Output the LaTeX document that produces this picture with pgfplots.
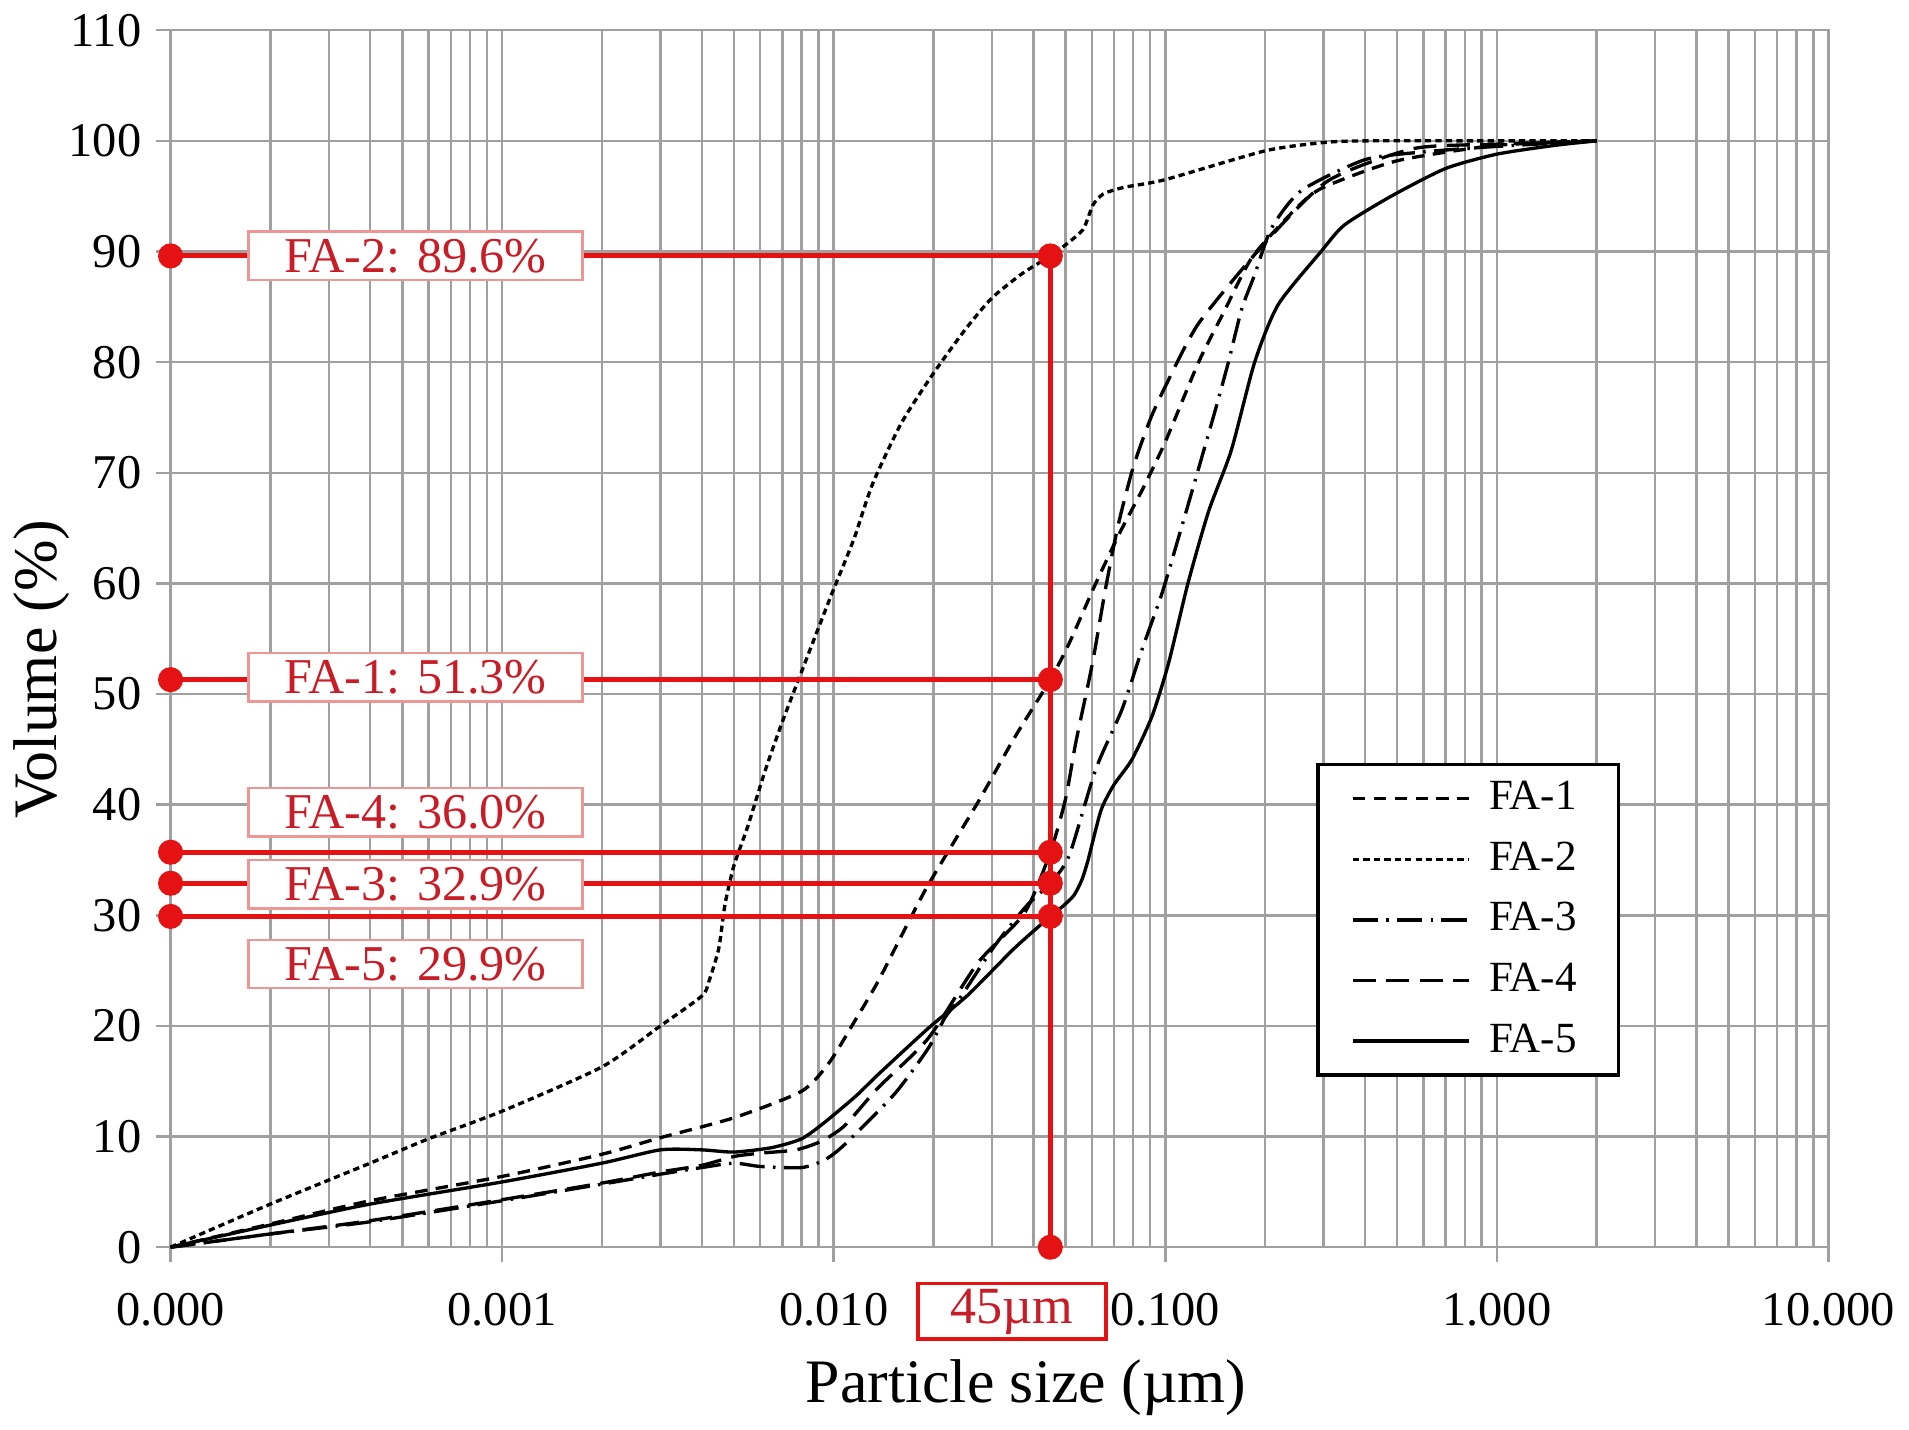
\documentclass[border=0pt]{standalone}
\usepackage{fontspec}
\setmainfont{Liberation Serif}
\usepackage{pgfplots}
\pgfplotsset{compat=1.18}
\definecolor{gridgray}{RGB}{160,160,160}
\definecolor{mred}{RGB}{228,18,18}
\definecolor{tred}{RGB}{200,28,38}
\definecolor{bred}{RGB}{236,150,150}

\begin{document}
\begin{tikzpicture}
\begin{axis}[
  scale only axis, width=13.95cm, height=10.24cm,
  xmode=log, log basis x=10,
  xmin=1e-4, xmax=10, ymin=0, ymax=110,
  xtick={1e-4,1e-3,1e-2,1e-1,1,10},
  xticklabels={0.000,0.001,0.010,0.100,1.000,10.000},
  minor xtick={2e-4,3e-4,4e-4,5e-4,6e-4,7e-4,8e-4,9e-4,
    2e-3,3e-3,4e-3,5e-3,6e-3,7e-3,8e-3,9e-3,
    0.02,0.03,0.04,0.05,0.06,0.07,0.08,0.09,
    0.2,0.3,0.4,0.5,0.6,0.7,0.8,0.9,
    2,3,4,5,6,7,8,9},
  ytick={0,10,...,110},
  grid=both,
  major grid style={gridgray, line width=0.6pt},
  minor grid style={gridgray, line width=0.6pt},
  axis line style={gridgray, line width=0.6pt},
  tick style={gridgray, line width=0.6pt},
  tick align=outside, major tick length=3.5pt, minor tick length=0pt,
  xtick pos=bottom, ytick pos=left,
  tick label style={font=\fontsize{11.6}{14}\selectfont},
  xticklabel style={yshift=-4pt},
  /pgf/number format/assume math mode=true,
  xlabel={Particle size (µm)}, ylabel={Volume (\%)},
  label style={font=\fontsize{14.8}{17}\selectfont},
  xlabel style={at={(axis description cs:0.516,-0.1150)}, anchor=center},
  ylabel style={at={(axis description cs:-0.0776,0.475)}, anchor=center},
  clip=false,
  legend style={at={(0.691,0.398)}, anchor=north west, draw=black,
    line width=0.8pt, fill=white, font=\fontsize{10.3}{12}\selectfont,
    inner xsep=8pt, inner ysep=2pt, row sep=2.2pt,
    cells={anchor=west}},
  legend image code/.code={\draw[#1, line width=0.8pt] (0pt,0pt) -- (27.9pt,0pt);
    \path (30.2pt,0pt);},
  every axis plot/.append style={black, line width=0.8pt},
]
% FA-1
\addplot[smooth, tension=0.4, dash pattern=on 3pt off 2pt] coordinates {
 (1e-4,0) (2e-4,2.1) (4e-4,4.2) (1e-3,6.4) (2e-3,8.4) (3e-3,9.9) (5e-3,11.7)
 (8e-3,14.1) (0.0097,16.7) (0.0116,20.5) (0.0137,24.2) (0.0189,32.3) (0.0272,40.2)
 (0.035,46) (0.045,51.3) (0.0513,54.6) (0.0617,60) (0.0724,64.4) (0.085,68.4)
 (0.1,72.8) (0.126,80) (0.15,84.5) (0.183,89.5) (0.25,94) (0.3,95.8) (0.5,98.2)
 (1.0,99.6) (2.0,100)};
\addlegendentry{FA-1}
% FA-2
\addplot[smooth, tension=0.4, dash pattern=on 1.5pt off 1pt] coordinates {
 (1e-4,0) (2e-4,3.9) (4e-4,7.6) (6e-4,9.8) (1e-3,12.3) (2e-3,16.3) (3e-3,20.0)
 (4e-3,22.7) (0.0042,24.0) (0.0045,27) (0.0047,31) (0.005,34.5) (0.0055,38)
 (0.0062,43) (0.007,47.5) (0.0079,51.6) (0.009,56) (0.01,59.5) (0.0115,64)
 (0.0131,69) (0.016,74.5) (0.02,79) (0.025,83) (0.03,85.8) (0.037,88) (0.045,89.6)
 (0.05,90.6) (0.0565,92) (0.0605,94.2) (0.065,95.2) (0.075,95.8) (0.1,96.5)
 (0.2,99.1) (0.3,99.85) (0.4,100) (1.0,100) (2.0,100)};
\addlegendentry{FA-2}
% FA-3
\addplot[smooth, tension=0.4, dash pattern=on 6pt off 2pt on 0.6pt off 2pt] coordinates {
 (1e-4,0) (2e-4,1.2) (4e-4,2.3) (1e-3,4.2) (2e-3,5.7) (3e-3,6.6) (4e-3,7.2)
 (5e-3,7.6) (6e-3,7.3) (8e-3,7.2) (0.0094,7.9) (0.0108,9.3) (0.0153,13.9)
 (0.0193,18) (0.0217,20.8) (0.024,22.5) (0.0305,27.2) (0.038,30.8) (0.045,32.9)
 (0.0513,35.4) (0.0617,43.2) (0.074,48.6) (0.085,54) (0.0977,59.1) (0.112,65.1)
 (0.123,69.3) (0.141,75.5) (0.155,80) (0.17,84.8) (0.186,87.9) (0.209,92.1)
 (0.257,95.5) (0.4,98.3) (0.6,99.0) (1.0,99.5) (2.0,100)};
\addlegendentry{FA-3}
% FA-4
\addplot[smooth, tension=0.4, dash pattern=on 5.5pt off 2.5pt] coordinates {
 (1e-4,0) (2e-4,1.2) (4e-4,2.4) (1e-3,4.3) (2e-3,5.8) (3e-3,6.8) (4e-3,7.4)
 (5e-3,8.2) (6e-3,8.5) (0.0077,8.8) (0.0092,9.6) (0.0108,11) (0.0136,14.4)
 (0.0193,18.9) (0.0272,25.7) (0.0376,30.2) (0.045,35.7) (0.05,40.5) (0.0537,45.6)
 (0.0603,52.8) (0.066,59.5) (0.072,65.2) (0.08,70.5) (0.09,74.8) (0.1,77.8)
 (0.126,83.5) (0.2,90.8) (0.31,96.4) (0.56,99.3) (1.0,99.7) (2.0,100)};
\addlegendentry{FA-4}
% FA-5
\addplot[smooth, tension=0.4] coordinates {
 (1e-4,0) (2e-4,2.0) (4e-4,3.9) (1e-3,5.9) (2e-3,7.6) (3e-3,8.8) (4e-3,8.8)
 (5e-3,8.6) (6.5e-3,9.0) (8e-3,9.8) (0.0094,11.3) (0.0117,13.7) (0.0136,15.6)
 (0.0193,19.8) (0.0254,22.8) (0.035,27) (0.045,29.9) (0.049,30.8) (0.053,31.8)
 (0.056,33.2) (0.0585,35) (0.064,39.5) (0.07,41.8) (0.0794,44.1) (0.0912,48)
 (0.1023,52.8) (0.117,60) (0.135,66.5) (0.158,72) (0.186,80) (0.219,85.2)
 (0.295,90) (0.347,92.4) (0.48,95) (0.7,97.5) (1.0,98.8) (1.5,99.6) (2.0,100)};
\addlegendentry{FA-5}

% red guides at 45 um
\addplot[forget plot, mred, line width=1.2pt] coordinates {(0.045,0) (0.045,89.6)};
\addplot[forget plot, mred, line width=1.2pt] coordinates {(1e-4,89.6) (0.045,89.6)};
\addplot[forget plot, mred, line width=1.2pt] coordinates {(1e-4,51.3) (0.045,51.3)};
\addplot[forget plot, mred, line width=1.2pt] coordinates {(1e-4,35.7) (0.045,35.7)};
\addplot[forget plot, mred, line width=1.2pt] coordinates {(1e-4,32.9) (0.045,32.9)};
\addplot[forget plot, mred, line width=1.2pt] coordinates {(1e-4,29.9) (0.045,29.9)};
\addplot[forget plot, only marks, mark=*, mark size=2.6pt, mred] coordinates {
 (1e-4,89.6) (1e-4,51.3) (1e-4,35.7) (1e-4,32.9) (1e-4,29.9)
 (0.045,89.6) (0.045,51.3) (0.045,35.7) (0.045,32.9) (0.045,29.9) (0.045,0)};

\tikzset{redbox/.style={draw=bred, fill=white, text=tred, line width=0.6pt,
  minimum width=80pt, minimum height=11.6pt, inner sep=0pt,
  font=\fontsize{12}{14}\selectfont}}
\node[redbox] at (axis cs:0.000548,89.6) {FA-2: 89.6\%};
\node[redbox] at (axis cs:0.000548,51.5) {FA-1: 51.3\%};
\node[redbox] at (axis cs:0.000548,39.3) {FA-4: 36.0\%};
\node[redbox] at (axis cs:0.000548,32.8) {FA-3: 32.9\%};
\node[redbox] at (axis cs:0.000548,25.6) {FA-5: 29.9\%};
\node[draw=mred, fill=white, text=tred, line width=0.9pt, minimum width=45pt,
  minimum height=13.4pt, inner sep=0pt, font=\fontsize{12.5}{14}\selectfont]
  at (axis cs:0.0345,-5.8) {45µm};
\end{axis}
\end{tikzpicture}
\end{document}
